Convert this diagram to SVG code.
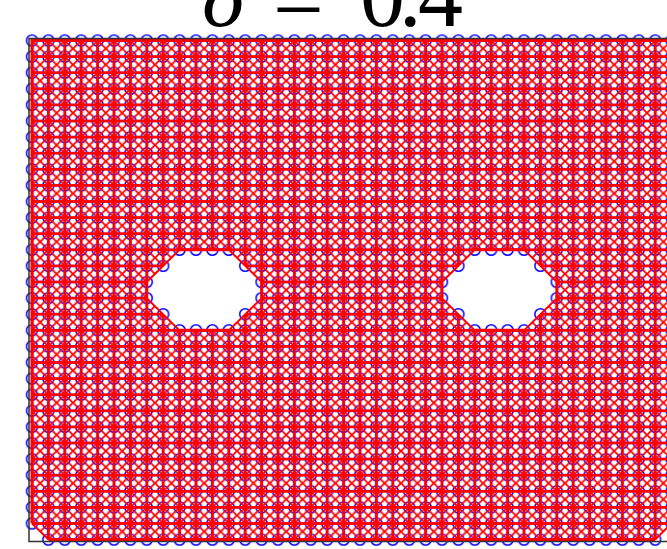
<svg xmlns="http://www.w3.org/2000/svg" width="667" height="549" viewBox="0 0 667 549">
<style>
.t{font-family:"Liberation Serif","DejaVu Serif",serif;font-size:90px;fill:#000}
.hv{stroke:#ff0000;stroke-width:3;fill:none}
.dg{stroke:#ff0000;stroke-width:1.8;fill:none}
.pc{fill:none;stroke:#0000ff;stroke-width:1.5}
</style>
<defs>
<pattern id="pcirc" patternUnits="userSpaceOnUse" x="23.8" y="32.45" width="16.4" height="16.1">
<circle cx="8.2" cy="8.05" r="5.5" class="pc"/>
</pattern>
<pattern id="pbond" patternUnits="userSpaceOnUse" x="23.8" y="32.45" width="16.4" height="16.1">
<path class="dg" d="M0 0L16.4 16.1M16.4 0L0 16.1"/>
<path class="hv" d="M0 8.05H16.4M8.2 0V16.1"/>
</pattern>
<clipPath id="dom">
<path clip-rule="evenodd" d="M32 40.5H700V523.5H671.6L655.2 539.6H48.4L32 523.5Z M179.6 249.8H228.8L261.6 282V298.1L228.8 330.3H179.6L146.8 298.1V282Z M474.8 249.8H524L556.8 282V298.1L524 330.3H474.8L442 298.1V282Z"/>
</clipPath>
</defs>
<rect width="667" height="549" fill="#fff"/>
<g id="particles">
<rect x="23.8" y="32.45" width="676.2" height="515.2" fill="url(#pcirc)"/>
<g fill="#fff">
<rect x="171.4" y="257.85" width="65.6" height="16.1"/>
<rect x="155" y="273.95" width="98.4" height="32.2"/>
<rect x="171.4" y="306.15" width="65.6" height="16.1"/>
<rect x="466.6" y="257.85" width="65.6" height="16.1"/>
<rect x="450.2" y="273.95" width="98.4" height="32.2"/>
<rect x="466.6" y="306.15" width="65.6" height="16.1"/>
<rect x="23.8" y="531.55" width="16.4" height="16.1"/>
<rect x="663.4" y="531.55" width="16.4" height="16.1"/>
</g>
</g>
<g id="bonds">
<rect x="0" y="0" width="700" height="549" fill="url(#pbond)" clip-path="url(#dom)"/>
<path class="hv" d="M32 523.5V40.5H700M48.4 539.6H655.2"/>
<path class="dg" d="M32 523.5L48.4 539.6M655.2 539.6L671.6 523.5"/>
<path class="hv" d="M179.6 249.8H228.8M261.6 282V298.1M228.8 330.3H179.6M146.8 298.1V282M474.8 249.8H524M556.8 282V298.1M524 330.3H474.8M442 298.1V282"/>
<path class="dg" d="M228.8 249.8L261.6 282M261.6 298.1L228.8 330.3M179.6 330.3L146.8 298.1M146.8 282L179.6 249.8M524 249.8L556.8 282M556.8 298.1L524 330.3M474.8 330.3L442 298.1M442 282L474.8 249.8"/>
</g>
<g id="axes">
<path d="M700 38.5H29V541.5H700" fill="none" stroke="#333" stroke-width="1.5"/>
</g>
<g id="title">
<text class="t" y="26"><tspan x="202" font-style="italic">δ</tspan> <tspan x="273" y="31">=</tspan> <tspan x="360" y="26">0</tspan><tspan x="399">.</tspan><tspan x="418">4</tspan></text>
</g>
</svg>
